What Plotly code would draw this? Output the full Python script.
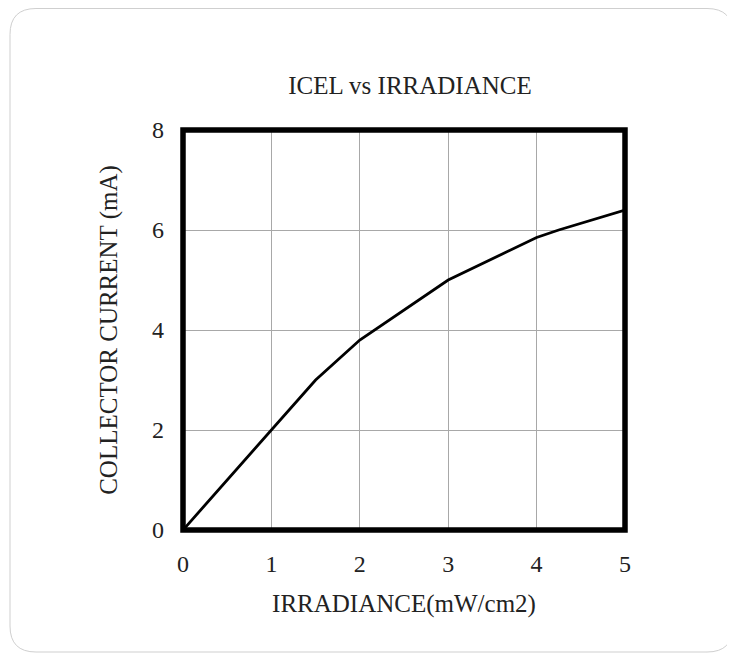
import plotly.graph_objects as go

# Data
irradiance = [0, 1, 1.5, 2, 3, 4, 4.25, 5]
collector_current = [0, 2.0, 3.0, 3.8, 5.0, 5.85, 6.0, 6.4]
x_ticks = [0, 1, 2, 3, 4, 5]
y_ticks = [0, 2, 4, 6, 8]

W, H = 735, 654
OFF = 8  # page body margin offset
L, R, T, B = 183 - OFF, 625 - OFF, 130 - OFF, 530 - OFF
FONT = "Liberation Serif"


def px(x, y):
    return (x - L) / (R - L), (B - y) / (B - T)


def card_path(x0, y0, x1, y1, r):
    def p(x, y):
        a, b = px(x, y)
        return f"{a:.5f},{b:.5f}"
    s = f"M {p(x0 + r, y0)} L {p(x1 - r, y0)} Q {p(x1, y0)} {p(x1, y0 + r)} "
    s += f"L {p(x1, y1 - r)} Q {p(x1, y1)} {p(x1 - r, y1)} "
    s += f"L {p(x0 + r, y1)} Q {p(x0, y1)} {p(x0, y1 - r)} "
    s += f"L {p(x0, y0 + r)} Q {p(x0, y0)} {p(x0 + r, y0)} Z"
    return s


fig = go.Figure()
fig.add_trace(go.Scatter(
    x=irradiance, y=collector_current, mode="lines",
    line=dict(color="black", width=2.8), showlegend=False,
    hoverinfo="skip",
))

fig.update_layout(
    width=W, height=H,
    margin=dict(l=L, r=W - R, t=T, b=H - B, autoexpand=False),
    paper_bgcolor="white", plot_bgcolor="white",
    font=dict(family=FONT, size=24, color="#222"),
    title=dict(text="ICEL vs IRRADIANCE", x=(410 - OFF) / W, xanchor="center",
               y=1 - (85 - OFF) / H, yanchor="middle", yref="container",
               font=dict(family=FONT, size=25, color="#222")),
    xaxis=dict(range=[0, 5], tickvals=x_ticks, showgrid=True,
               gridcolor="#a8a8a8", gridwidth=1, zeroline=False,
               showline=False, ticks="", ticklabelstandoff=17,
               tickfont=dict(family=FONT, size=24, color="#222"),
               title=dict(text="IRRADIANCE(mW/cm2)", standoff=18,
                          font=dict(family=FONT, size=25, color="#222"))),
    yaxis=dict(range=[0, 8], tickvals=y_ticks, showgrid=True,
               gridcolor="#a8a8a8", gridwidth=1, zeroline=False,
               showline=False, ticks="", ticklabelstandoff=18,
               tickfont=dict(family=FONT, size=24, color="#222"),
               title=dict(text="COLLECTOR CURRENT (mA)", standoff=27,
                          font=dict(family=FONT, size=25, color="#222"))),
    shapes=[
        dict(type="rect", xref="paper", yref="paper", x0=0, x1=1, y0=0, y1=1,
             line=dict(color="black", width=5.5), layer="above"),
        dict(type="path", xref="paper", yref="paper",
             path=card_path(10 - OFF, 0.5, 733 - OFF, 652 - OFF, 26),
             line=dict(color="#cfcfcf", width=1), layer="below"),
    ],
)

fig.write_html("out.html")
